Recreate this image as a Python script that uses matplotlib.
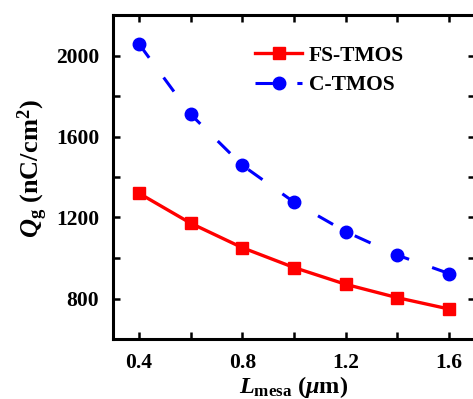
import matplotlib
matplotlib.use("Agg")
import matplotlib.pyplot as plt
from matplotlib.lines import Line2D

# Data
l_mesa = [0.4, 0.6, 0.8, 1.0, 1.2, 1.4, 1.6]
qg_fs = [1320, 1172, 1051, 953, 870, 804, 748]
qg_c = [2058, 1710, 1458, 1276, 1130, 1014, 923]
x_ticks = [0.4, 0.6, 0.8, 1.0, 1.2, 1.4, 1.6]
x_ticklabels = ["0.4", "", "0.8", "", "1.2", "", "1.6"]
y_ticks = [800, 1000, 1200, 1400, 1600, 1800, 2000]
y_ticklabels = ["800", "", "1200", "", "1600", "", "2000"]

plt.rcParams["font.family"] = ["Liberation Serif", "DejaVu Serif"]
plt.rcParams["font.weight"] = "bold"
plt.rcParams["mathtext.fontset"] = "custom"
plt.rcParams["mathtext.rm"] = "Liberation Serif:bold"
plt.rcParams["mathtext.it"] = "Liberation Serif:italic:bold"
plt.rcParams["mathtext.bf"] = "Liberation Serif:bold"

fig = plt.figure(figsize=(4.73, 3.99), dpi=100)
ax = fig.add_axes([113 / 473, 1 - 339 / 399, 362 / 473, 324 / 399])

ax.plot(l_mesa, qg_fs, color="red", lw=2.4, marker="s", ms=8)
ax.plot(l_mesa, qg_c, color="blue", lw=2.2, dashes=(5.7, 8))
ax.plot(l_mesa, qg_c, color="blue", ls="none", marker="o", ms=9)

handles = [
    Line2D([], [], color="red", lw=2.4, marker="s", ms=8),
    Line2D([], [], color="blue", lw=2.2, dashes=(5.7, 8), marker="o", ms=9),
]

ax.set_xlim(0.3, 1.7)
ax.set_ylim(600, 2200)
ax.set_xticks(x_ticks)
ax.set_xticklabels(x_ticklabels)
ax.set_yticks(y_ticks)
ax.set_yticklabels(y_ticklabels)
ax.tick_params(direction="in", length=5, width=1.8, labelsize=15.5,
               top=True, right=True, pad=10)
for sp in ax.spines.values():
    sp.set_linewidth(2.2)

ax.set_xlabel(r"$\mathit{L}_\mathrm{mesa}$ ($\mathit{\mu}$m)", fontsize=17.5,
              fontweight="bold", labelpad=1)
ax.set_ylabel(r"$\mathit{Q}_\mathrm{g}$ (nC/cm$^\mathrm{2}$)", fontsize=19,
              fontweight="bold")
ax.yaxis.set_label_coords(-0.174, 0.525)

ax.legend(handles, ["FS-TMOS", "C-TMOS"], loc="upper left",
          bbox_to_anchor=(0.368, 0.932), frameon=False, fontsize=15.5,
          handlelength=2.2, handletextpad=0.3, labelspacing=0.45,
          borderaxespad=0)

fig.savefig("out.png", dpi=100)
